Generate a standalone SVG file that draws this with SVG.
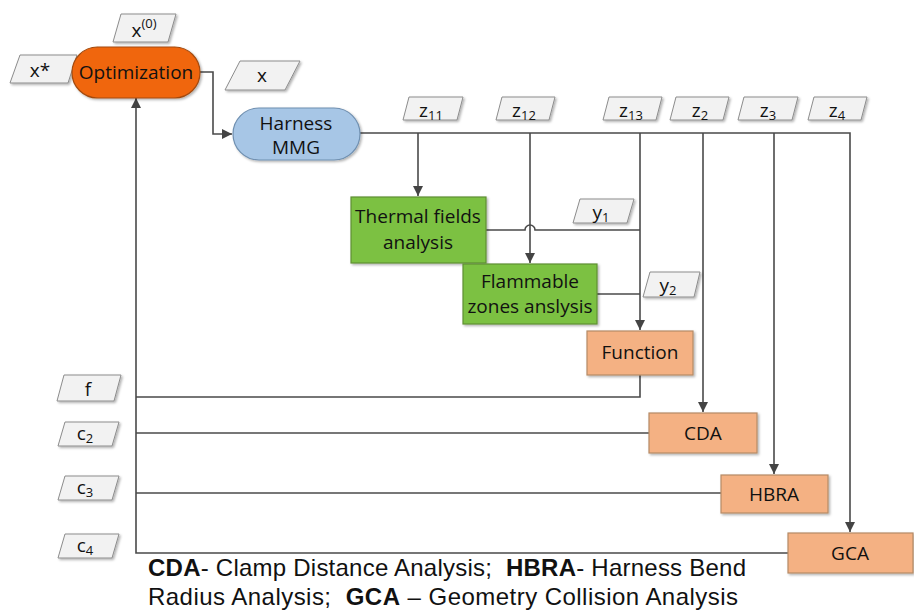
<svg xmlns="http://www.w3.org/2000/svg" width="914" height="613" viewBox="0 0 914 613">
<defs>
<marker id="ah" viewBox="0 0 10 10" refX="10" refY="5" markerWidth="10" markerHeight="10" markerUnits="userSpaceOnUse" orient="auto">
<path d="M0,0 L10,5 L0,10 z" fill="#444"/>
</marker>
<filter id="sh" x="-10%" y="-10%" width="130%" height="140%">
<feDropShadow dx="1.5" dy="1.5" stdDeviation="1" flood-color="#000" flood-opacity="0.3"/>
</filter>
</defs>
<style>
text{font-family:"Open Sans","Liberation Sans",sans-serif;fill:#111;}
.lbl{font-size:19px;text-anchor:middle;}
.var{font-size:19px;text-anchor:middle;}
.sub{font-size:13px;}
.para{fill:#f2f2f2;stroke:#8c8c8c;stroke-width:1;filter:url(#sh);}
.green{fill:#7cc142;stroke:#5f8f35;stroke-width:1.2;filter:url(#sh);}
.peach{fill:#f4b183;stroke:#b58a66;stroke-width:1.2;filter:url(#sh);}
.ln{fill:none;stroke:#4a4a4a;stroke-width:1.6;}
.leg{font-family:"Liberation Sans","Open Sans",sans-serif;font-size:24px;white-space:pre;}
</style>
<rect width="914" height="613" fill="#fff"/>

<g id="connectors">
<path class="ln" d="M200,72 H213 V134 H232" marker-end="url(#ah)"/>
<path class="ln" d="M360,133 H850 V532" marker-end="url(#ah)"/>
<path class="ln" d="M418,133 V196" marker-end="url(#ah)"/>
<path class="ln" d="M530,133 V263" marker-end="url(#ah)"/>
<path class="ln" d="M640,133 V330" marker-end="url(#ah)"/>
<path class="ln" d="M703,133 V412" marker-end="url(#ah)"/>
<path class="ln" d="M774,133 V474" marker-end="url(#ah)"/>
<path class="ln" d="M486,230 H525 A5,5 0 0 1 535,230 H640"/>
<path class="ln" d="M597,294 H640"/>
<path class="ln" d="M640,375 V397 H136"/>
<path class="ln" d="M649,433 H136"/>
<path class="ln" d="M721,493 H136"/>
<path class="ln" d="M788,553 H136 V98" marker-end="url(#ah)"/>
</g>

<g id="x0">
<polygon class="para" points="121,14 176,14 168,42 113,42"/>
<text class="var" x="144" y="37">x<tspan class="sub" dy="-9">(0)</tspan></text>
</g>
<g id="xstar">
<polygon class="para" points="20,55 77,55 68,83 10,83"/>
<text class="var" x="40" y="77">x*</text>
</g>
<g id="optimization">
<rect x="72" y="47" width="128" height="51" rx="25.5" fill="#f0660c" stroke="#a34a0e" stroke-width="1.2" filter="url(#sh)"/>
<text class="lbl" x="136" y="79" font-size="19.5">Optimization</text>
</g>
<g id="xvar">
<polygon class="para" points="240,61 300,61 285,90 225,90"/>
<text class="var" x="262" y="82">x</text>
</g>
<g id="harness">
<rect x="233" y="108" width="127" height="52" rx="26" fill="#a7c6e6" stroke="#6f8fb0" stroke-width="1.2" filter="url(#sh)"/>
<text class="lbl" x="296" y="130">Harness</text>
<text class="lbl" x="296" y="154">MMG</text>
</g>

<g id="z11"><polygon class="para" points="409,97 463,97 457,120 403,120"/><text class="var" x="431" y="117">z<tspan class="sub" dy="3">11</tspan></text></g>
<g id="z12"><polygon class="para" points="502,97 555,97 549,120 496,120"/><text class="var" x="524" y="117">z<tspan class="sub" dy="3">12</tspan></text></g>
<g id="z13"><polygon class="para" points="609,97 662,97 656,120 603,120"/><text class="var" x="631" y="117">z<tspan class="sub" dy="3">13</tspan></text></g>
<g id="z2"><polygon class="para" points="676,97 729,97 723,120 670,120"/><text class="var" x="700" y="117">z<tspan class="sub" dy="3">2</tspan></text></g>
<g id="z3"><polygon class="para" points="744,97 798,97 792,120 738,120"/><text class="var" x="768" y="117">z<tspan class="sub" dy="3">3</tspan></text></g>
<g id="z4"><polygon class="para" points="814,97 867,97 861,120 808,120"/><text class="var" x="837" y="117">z<tspan class="sub" dy="3">4</tspan></text></g>

<g id="thermal">
<rect class="green" x="351" y="197" width="135" height="66"/>
<text class="lbl" x="418" y="223">Thermal fields</text>
<text class="lbl" x="418" y="249">analysis</text>
</g>
<g id="y1"><polygon class="para" points="580,199 634,199 627,223 573,223"/><text class="var" x="601" y="219">y<tspan class="sub" dy="3">1</tspan></text></g>
<g id="flammable">
<rect class="green" x="463" y="264" width="134" height="60"/>
<text class="lbl" x="530" y="288">Flammable</text>
<text class="lbl" x="530" y="313">zones anslysis</text>
</g>
<g id="y2"><polygon class="para" points="650,272 700,272 694,297 643,297"/><text class="var" x="668" y="292">y<tspan class="sub" dy="3">2</tspan></text></g>

<g id="function">
<rect class="peach" x="587" y="331" width="106" height="44"/>
<text class="lbl" x="640" y="359">Function</text>
</g>
<g id="cda">
<rect class="peach" x="649" y="413" width="108" height="40"/>
<text class="lbl" x="703" y="440">CDA</text>
</g>
<g id="hbra">
<rect class="peach" x="721" y="475" width="107" height="38"/>
<text class="lbl" x="774" y="501">HBRA</text>
</g>
<g id="gca">
<rect class="peach" x="788" y="533" width="125" height="40"/>
<text class="lbl" x="850" y="560">GCA</text>
</g>

<g id="f"><polygon class="para" points="64,375 121,375 114,401 57,401"/><text class="var" x="88" y="396">f</text></g>
<g id="c2"><polygon class="para" points="65,422 119,422 112,446 58,446"/><text class="var" x="85" y="440">c<tspan class="sub" dy="3">2</tspan></text></g>
<g id="c3"><polygon class="para" points="65,476 119,476 112,500 58,500"/><text class="var" x="85" y="494">c<tspan class="sub" dy="3">3</tspan></text></g>
<g id="c4"><polygon class="para" points="65,534 119,534 112,558 58,558"/><text class="var" x="85" y="552">c<tspan class="sub" dy="3">4</tspan></text></g>

<g id="legend">
<text class="leg" x="148" y="576" textLength="598" lengthAdjust="spacing" xml:space="preserve"><tspan font-weight="bold">CDA</tspan>- Clamp Distance Analysis;  <tspan font-weight="bold">HBRA</tspan>- Harness Bend</text>
<text class="leg" x="148" y="605" textLength="590" lengthAdjust="spacing" xml:space="preserve">Radius Analysis;  <tspan font-weight="bold">GCA</tspan> – Geometry Collision Analysis</text>
</g>
</svg>
